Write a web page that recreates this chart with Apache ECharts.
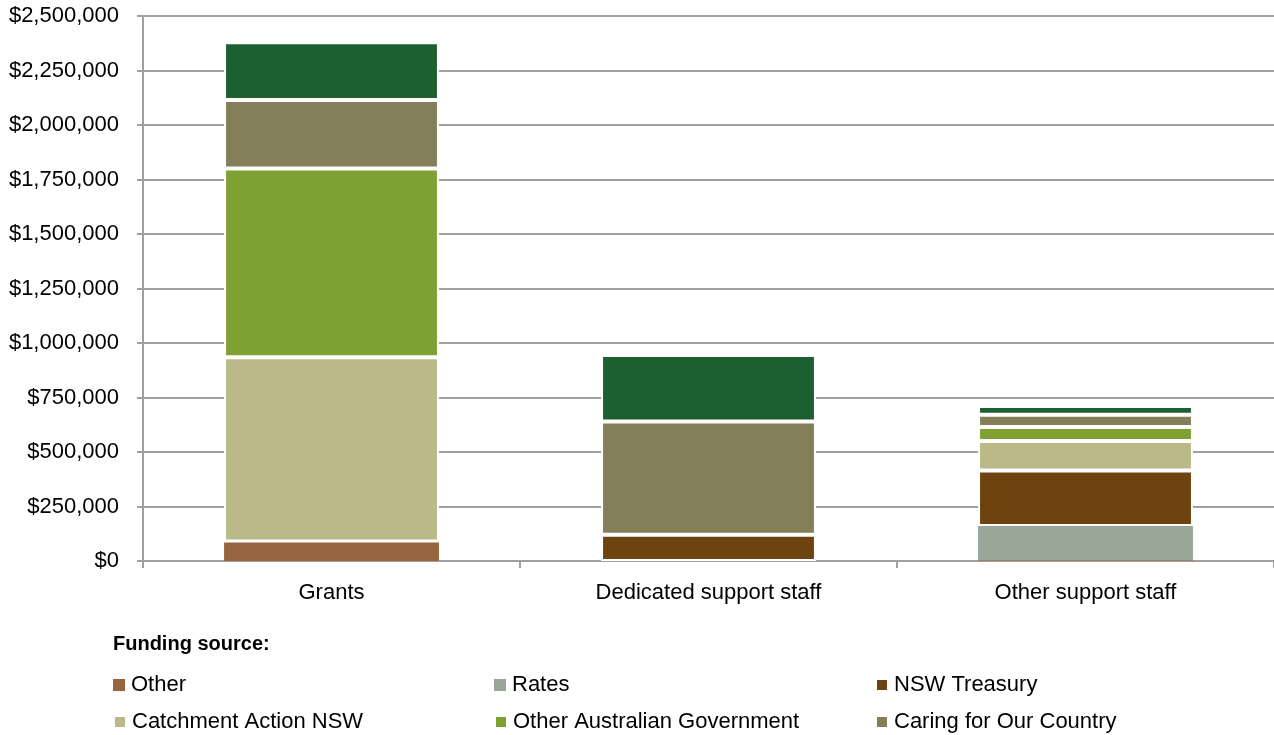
<!DOCTYPE html>
<html>
<head>
<meta charset="utf-8">
<script src="https://cdn.jsdelivr.net/npm/echarts@6/dist/echarts.min.js"></script>
<style>html,body{margin:0;padding:0;background:#fff}#c{width:1274px;height:735px}</style>
</head>
<body>
<div id="c"></div>
<script>
const categories = ['Grants', 'Dedicated support staff', 'Other support staff'];
const other = [90000, 0, 3000];
const rates = [0, 0, 157000];
const nswTreasury = [0, 120000, 255000];
const catchmentAction = [845000, 0, 135000];
const otherAustGov = [865000, 0, 65000];
const caringForCountry = [315000, 520000, 56000];
const topSource = [265000, 305000, 40000];
const yTicks = [0, 250000, 500000, 750000, 1000000, 1250000, 1500000, 1750000, 2000000, 2250000, 2500000];

const FONT = 'Liberation Sans';
const seriesDefs = [
  {name: 'Other', data: other, color: '#96653F', border: 0},
  {name: 'Rates', data: rates, color: '#99A698', border: 0},
  {name: 'NSW Treasury', data: nswTreasury, color: '#6E4310', border: 2},
  {name: 'Catchment Action NSW', data: catchmentAction, color: '#BAB987', border: 2},
  {name: 'Other Australian Government', data: otherAustGov, color: '#7FA033', border: 2},
  {name: 'Caring for Our Country', data: caringForCountry, color: '#847F58', border: 2},
  {name: 'Further source (legend row cut off)', data: topSource, color: '#1C5F30', border: 2}
];

const legendPos = [
  [108, 669], [489, 669], [870, 669],
  [108, 706], [489, 706], [870, 706]
];
const legends = seriesDefs.slice(0, 6).map((s, i) => ({
  data: [s.name],
  left: legendPos[i][0],
  top: legendPos[i][1],
  orient: 'horizontal',
  itemWidth: 12,
  itemHeight: 12,
  itemGap: 0,
  icon: 'rect',
  selectedMode: false,
  textStyle: {fontFamily: FONT, fontSize: 22, color: '#000', padding: [0, 0, 0, 1]}
}));

const chart = echarts.init(document.getElementById('c'), null, {renderer: 'canvas'});
chart.setOption({
  animation: false,
  backgroundColor: '#fff',
  title: {
    text: 'Funding source:',
    left: 108, top: 629,
    textStyle: {fontFamily: FONT, fontSize: 20, fontWeight: 'bold', color: '#000'}
  },
  legend: legends,
  grid: {left: 143, right: 0, top: 16, bottom: 174, containLabel: false},
  xAxis: {
    type: 'category',
    data: categories,
    axisLine: {show: true, lineStyle: {color: '#A0A0A0', width: 2}},
    axisTick: {show: true, alignWithLabel: false, length: 7, lineStyle: {color: '#A0A0A0', width: 2}},
    axisLabel: {fontFamily: FONT, fontSize: 22, color: '#000', margin: 21}
  },
  yAxis: {
    type: 'value',
    min: yTicks[0],
    max: yTicks[yTicks.length - 1],
    interval: yTicks[1] - yTicks[0],
    axisLine: {show: true, lineStyle: {color: '#A0A0A0', width: 2}},
    axisTick: {show: true, length: 6, lineStyle: {color: '#A0A0A0', width: 2}},
    splitLine: {show: true, lineStyle: {color: '#A0A0A0', width: 2}},
    axisLabel: {
      fontFamily: FONT, fontSize: 22, color: '#000', margin: 24,
      formatter: v => '$' + v.toLocaleString('en-US')
    }
  },
  series: seriesDefs.map(s => ({
    name: s.name,
    type: 'bar',
    stack: 'total',
    barWidth: '57%',
    data: s.data,
    itemStyle: {color: s.color, borderColor: '#fff', borderWidth: s.border}
  }))
});
</script>
</body>
</html>
